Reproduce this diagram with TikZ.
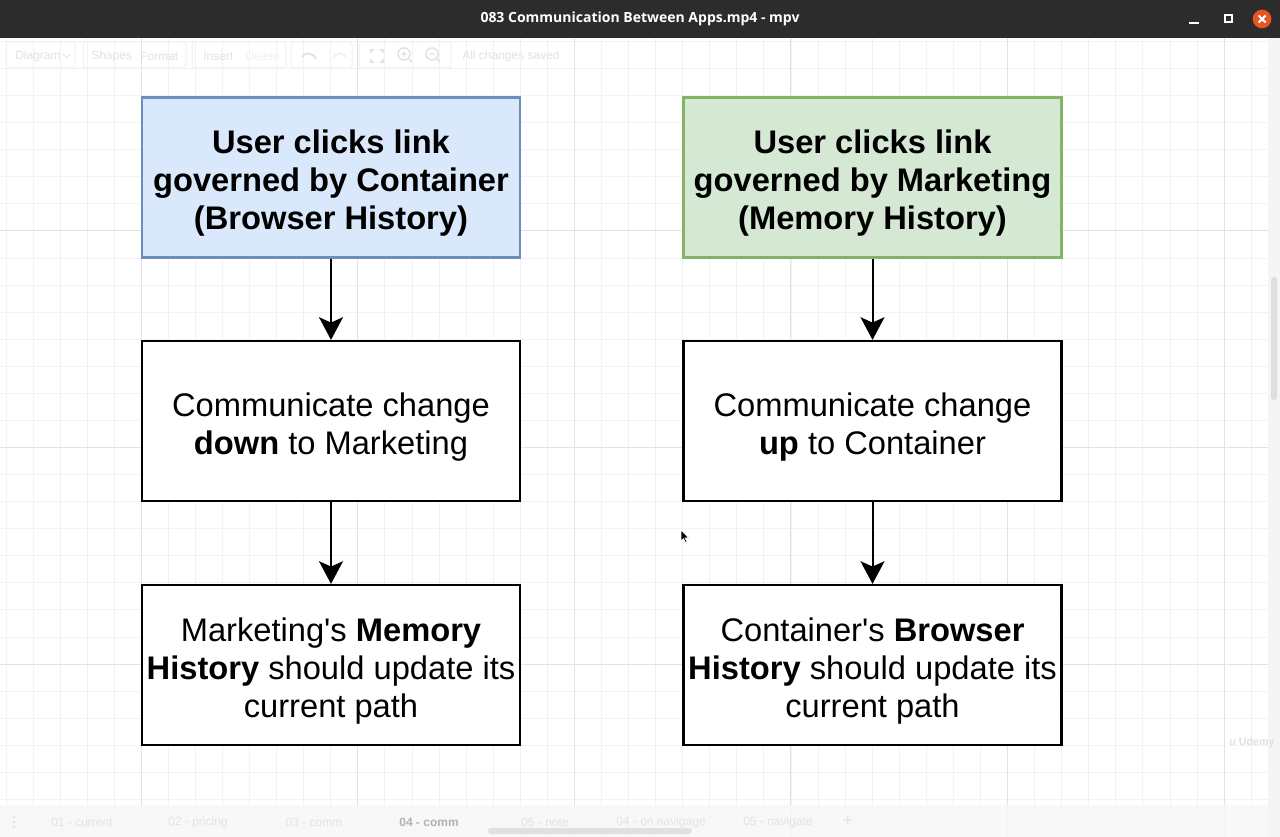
\documentclass[tikz,border=0pt]{standalone}
\usepackage{fontspec}
\setmainfont{Liberation Sans}[Ligatures=TeXOff]
\newfontfamily\titlefont{Open Sans}
\usetikzlibrary{arrows.meta}
\definecolor{bluefill}{HTML}{DAE8FC}
\definecolor{bluedraw}{HTML}{6C8EBF}
\definecolor{greenfill}{HTML}{D5E8D4}
\definecolor{greendraw}{HTML}{82B366}
\definecolor{titlebg}{HTML}{2C2C2C}
\definecolor{ubuorange}{HTML}{E95420}
\definecolor{gridminor}{HTML}{F2F2F2}
\definecolor{gridmajor}{HTML}{E3E3E3}
\definecolor{faint}{HTML}{E2E2E2}
\definecolor{fainter}{HTML}{F1F1F1}
\begin{document}
\begin{tikzpicture}[x=0.75pt,y=-0.75pt,
  box/.style={draw=black, line width=1.65pt, minimum width=283.5pt, minimum height=120pt, inner sep=0pt},
  bluebox/.style={box, draw=bluedraw, fill=bluefill},
  greenbox/.style={box, draw=greendraw, fill=greenfill},
  plainbox/.style={box, fill=white},
  boxtext/.style={align=center, inner sep=0pt, font=\fontsize{24.5}{28.5}\selectfont},
  boldtext/.style={boxtext, font=\fontsize{24.5}{28.5}\selectfont\bfseries},
  arr/.style={line width=1.5pt, -{Stealth[length=17pt,width=18pt,inset=4pt]}},
  minorline/.style={draw=gridminor, line width=0.75pt},
  majorline/.style={draw=gridmajor, line width=0.75pt},
  tool/.style={text=faint, font=\fontsize{9}{10}\selectfont, anchor=west, inner sep=0pt},
  tab/.style={text=faint, font=\fontsize{9}{10}\selectfont, inner sep=0pt},
  outl/.style={draw=fainter, line width=0.75pt, rounded corners=2pt}
]
\useasboundingbox (0,0) rectangle (1280,837);
\fill[white] (0,0) rectangle (1280,837);
% grid
\foreach \i in {0,...,46} { \draw[minorline] ({6+27.07*\i},38) -- ({6+27.07*\i},837); }
\foreach \k in {0,...,29} { \draw[minorline] (0,{41.5+27.07*\k}) -- (1268,{41.5+27.07*\k}); }
\foreach \k in {0,...,5} { \draw[majorline] ({141+216.6*\k},38) -- ({141+216.6*\k},837); }
\foreach \k in {0,...,2} { \draw[majorline] (0,{231+216.6*\k}) -- (1268,{231+216.6*\k}); }
% right scrollbar strip
\fill[fill=black!4] (1268,38) rectangle (1280,837);
\fill[fill=black!13, rounded corners=2.2pt] (1271,277) rectangle (1277,400);
% bottom tab bar
\fill[fill=black!3, opacity=0.85] (0,805) rectangle (1268,837);
\fill[fill=black!12, rounded corners=2.2pt] (488,828) rectangle (692,834);
\fill[faint] (14,817) circle[radius=1pt] (14,822) circle[radius=1pt] (14,827) circle[radius=1pt];
\node[tab] (t1) at (82,822) {01 - current};
\node[tab] (t2) at (198,822) {02 - pricing};
\node[tab] (t3) at (314,822) {03 - comm};
\node[tab, text=black!30] (t4) at (429,822) {\textbf{04 - comm}};
\node[tab] (t5) at (545,822) {05 - note};
\node[tab] (t6) at (661,822) {04 - on navigage};
\node[tab] (t7) at (778,822) {05 - navigate};
\node[tab, font=\fontsize{13}{13}\selectfont] (t8) at (848,821) {+};
% toolbar (faded)
\draw[outl] (6,42) rectangle (75,68);
\draw[outl] (83,42) rectangle (186,68);
\draw[outl] (192,42) rectangle (286,68);
\draw[outl] (291,42) rectangle (352,68);
\draw[outl] (359,42) rectangle (451,68);
\node[tool] (d1) at (15,56) {Diagram};
\draw[faint, line width=0.6pt] (63,54) -- (66.5,57.5) -- (70,54);
\node[tool] (d2) at (91,56) {Shapes};
\node[tool] (d3) at (140,56) {Format};
\node[tool] (d4) at (203,56) {Insert};
\node[tool, text=fainter] (d5) at (245,56) {Delete};
\draw[faint, line width=1.4pt] (316,59) .. controls (313,52) and (305,52) .. (302,57);
\draw[fainter, line width=1.4pt] (333,59) .. controls (336,52) and (343,52) .. (346,57);
\draw[faint, line width=1.1pt] (371,53) -- (371,50) -- (374,50) (380,50) -- (383,50) -- (383,53)
  (383,59) -- (383,62) -- (380,62) (374,62) -- (371,62) -- (371,59);
\draw[faint, line width=1.1pt] (404,54) circle[radius=4.5pt] (408.5,58.5) -- (412,62) (401,54) -- (407,54) (404,51) -- (404,57);
\draw[faint, line width=1.1pt] (432,54) circle[radius=4.5pt] (436.5,58.5) -- (440,62) (429,54) -- (435,54);
\node[tool] (d6) at (462,56) {All changes saved};
% title bar
\fill[titlebg] (0,0) rectangle (1280,38);
\node[text=white, font=\titlefont\bfseries\fontsize{10.5}{12}\selectfont, inner sep=0pt] (title) at (640,19) {083 Communication Between Apps.mp4 - mpv};
\draw[white, line width=1.5pt] (1189,23.5) -- (1199,23.5);
\draw[white, line width=1.5pt] (1224.5,15.5) rectangle (1231.5,22.5);
\fill[ubuorange] (1262,19) circle[radius=7pt];
\draw[white, line width=1.6pt] (1258.5,15.5) -- (1265.5,22.5) (1265.5,15.5) -- (1258.5,22.5);
% diagram boxes
\node[bluebox] (b1) at (331,177.5) {};
\node[plainbox] (b2) at (331,421) {};
\node[plainbox] (b3) at (331,665) {};
\node[greenbox] (g1) at (872.5,177.5) {};
\node[plainbox] (g2) at (872.5,421) {};
\node[plainbox] (g3) at (872.5,665) {};
\node[boldtext] (b1t) at ([yshift=-4.5pt]b1.center) {User clicks link\\governed by Container\\(Browser History)};
\node[boxtext] (b2t) at ([yshift=-4.5pt]b2.center) {Communicate change\\\textbf{down} to Marketing};
\node[boxtext] (b3t) at ([yshift=-4.2pt]b3.center) {Marketing's \textbf{Memory}\\\textbf{History} should update its\\current path};
\node[boldtext] (g1t) at ([yshift=-4.5pt]g1.center) {User clicks link\\governed by Marketing\\(Memory History)};
\node[boxtext] (g2t) at ([yshift=-4.5pt]g2.center) {Communicate change\\\textbf{up} to Container};
\node[boxtext] (g3t) at ([yshift=-4.2pt]g3.center) {Container's \textbf{Browser}\\\textbf{History} should update its\\current path};
\draw[arr] (b1.south) -- (b2.north);
\draw[arr] (b2.south) -- (b3.north);
\draw[arr] (g1.south) -- (g2.north);
\draw[arr] (g2.south) -- (g3.north);
% mouse cursor
\filldraw[fill=black, draw=white, line width=0.4pt] (681,530) -- (681,541) -- (683.5,538.5) -- (685.5,542.5) -- (687,541.8) -- (685,538) -- (688.5,538) -- cycle;
% watermark
\node[text=black!12, font=\fontsize{8}{9}\selectfont\bfseries, inner sep=0pt] (wm) at (1252,743) {\itshape u\upshape\ Udemy};
\end{tikzpicture}
\end{document}
